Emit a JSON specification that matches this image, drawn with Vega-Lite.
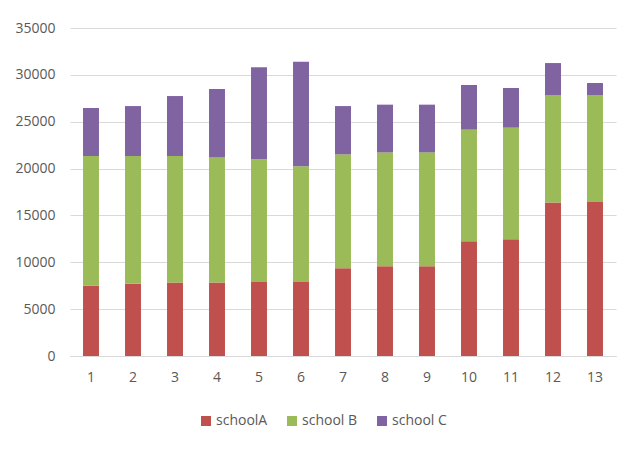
{
  "$schema": "https://vega.github.io/schema/vega-lite/v6.json",
  "width": 546,
  "height": 328,
  "autosize": {"type": "none"},
  "padding": {"left": 70, "top": 28, "right": 21, "bottom": 98},
  "background": "white",
  "config": {
    "view": {"stroke": null},
    "font": "Open Sans",
    "axis": {"labelColor": "#595959", "labelFontSize": 14, "labelFont": "Open Sans"}
  },
  "data": {
    "values": [
      {"x": 1, "school": "schoolA", "v": 7500}, {"x": 1, "school": "school B", "v": 13840}, {"x": 1, "school": "school C", "v": 5120},
      {"x": 2, "school": "schoolA", "v": 7720}, {"x": 2, "school": "school B", "v": 13620}, {"x": 2, "school": "school C", "v": 5330},
      {"x": 3, "school": "schoolA", "v": 7830}, {"x": 3, "school": "school B", "v": 13510}, {"x": 3, "school": "school C", "v": 6400},
      {"x": 4, "school": "schoolA", "v": 7830}, {"x": 4, "school": "school B", "v": 13340}, {"x": 4, "school": "school C", "v": 7320},
      {"x": 5, "school": "schoolA", "v": 7900}, {"x": 5, "school": "school B", "v": 13090}, {"x": 5, "school": "school C", "v": 9810},
      {"x": 6, "school": "schoolA", "v": 7900}, {"x": 6, "school": "school B", "v": 12340}, {"x": 6, "school": "school C", "v": 11170},
      {"x": 7, "school": "schoolA", "v": 9360}, {"x": 7, "school": "school B", "v": 12160}, {"x": 7, "school": "school C", "v": 5150},
      {"x": 8, "school": "schoolA", "v": 9570}, {"x": 8, "school": "school B", "v": 12160}, {"x": 8, "school": "school C", "v": 5090},
      {"x": 9, "school": "schoolA", "v": 9570}, {"x": 9, "school": "school B", "v": 12160}, {"x": 9, "school": "school C", "v": 5090},
      {"x": 10, "school": "schoolA", "v": 12240}, {"x": 10, "school": "school B", "v": 11910}, {"x": 10, "school": "school C", "v": 4770},
      {"x": 11, "school": "schoolA", "v": 12450}, {"x": 11, "school": "school B", "v": 11920}, {"x": 11, "school": "school C", "v": 4230},
      {"x": 12, "school": "schoolA", "v": 16370}, {"x": 12, "school": "school B", "v": 11480}, {"x": 12, "school": "school C", "v": 3410},
      {"x": 13, "school": "schoolA", "v": 16430}, {"x": 13, "school": "school B", "v": 11420}, {"x": 13, "school": "school C", "v": 1280}
    ]
  },
  "transform": [
    {"calculate": "datum.school === 'schoolA' ? 0 : datum.school === 'school B' ? 1 : 2", "as": "ord"}
  ],
  "mark": {"type": "bar"},
  "encoding": {
    "x": {
      "field": "x", "type": "ordinal",
      "scale": {"paddingInner": 0.62, "paddingOuter": 0.31},
      "axis": {"title": null, "labelAngle": 0, "ticks": false, "domainColor": "#D9D9D9", "labelPadding": 14, "labelFontSize": 14}
    },
    "y": {
      "field": "v", "type": "quantitative", "aggregate": "sum", "stack": "zero",
      "scale": {"domain": [0, 35000], "nice": false},
      "axis": {"title": null, "values": [0, 5000, 10000, 15000, 20000, 25000, 30000, 35000], "format": "d", "domain": false, "ticks": false, "gridColor": "#D9D9D9", "labelPadding": 15}
    },
    "color": {
      "field": "school", "type": "nominal",
      "scale": {"domain": ["schoolA", "school B", "school C"], "range": ["#C0504D", "#9BBB59", "#8064A2"]},
      "legend": {
        "title": null, "orient": "none", "direction": "horizontal",
        "legendX": 129, "legendY": 386,
        "symbolType": "square", "symbolSize": 100, "symbolStrokeWidth": 0,
        "labelFontSize": 14, "labelColor": "#595959", "labelOffset": 3, "columnPadding": 17
      }
    },
    "order": {"field": "ord", "type": "quantitative"}
  }
}
